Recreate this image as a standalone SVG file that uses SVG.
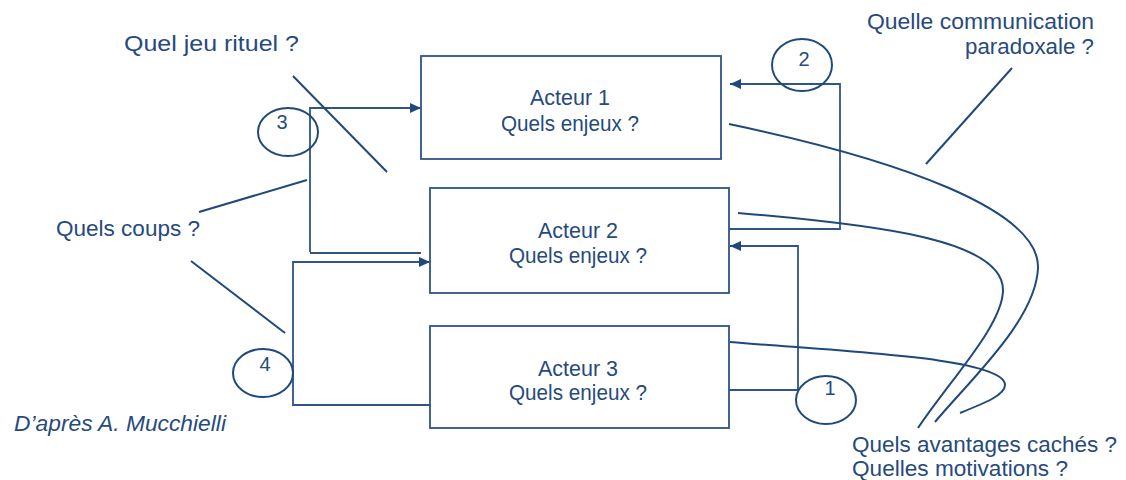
<svg xmlns="http://www.w3.org/2000/svg" width="1126" height="480" viewBox="0 0 1126 480">
<defs>
<marker id="ah" markerUnits="userSpaceOnUse" markerWidth="12" markerHeight="10" refX="11" refY="5" orient="auto">
<path d="M0,0 L11,5 L0,10 z" fill="#1f497d"/>
</marker>
<style>
.box{fill:#fff;stroke:#2f5488;stroke-width:1.8}
.ln{fill:none;stroke:#1f497d;stroke-width:2}
.cn{fill:none;stroke:#2f5488;stroke-width:1.8}
.el{fill:none;stroke:#1f497d;stroke-width:2}
.t{font-family:"Liberation Sans",Arial,sans-serif;font-size:22.5px;fill:#264a7e}
.b{font-family:"Liberation Sans",Arial,sans-serif;font-size:21.5px;fill:#264a7e;text-anchor:middle}
.d{font-family:"Liberation Sans",Arial,sans-serif;font-size:20px;fill:#264a7e;text-anchor:middle}
</style>
</defs>
<rect width="1126" height="480" fill="#fff"/>

<g id="connectors">
<path class="cn" d="M310,252 L310,108 L421,108" marker-end="url(#ah)"/>
<path class="cn" d="M421,253 L310,253"/>
<path class="cn" d="M430,405 L293,405 L293,262 L430,262" marker-end="url(#ah)"/>
<path class="cn" d="M729,229 L840,229 L840,84 L730,84" marker-end="url(#ah)"/>
<path class="cn" d="M729,390 L798,390 L798,246 L730,246" marker-end="url(#ah)"/>
<path class="ln" d="M729,124 C900,160 1040,210 1038,268 C1036,320 970,380 935,422"/>
<path class="ln" d="M738,213 C880,225 1003,240 1003,290 C1003,325 950,380 918,428"/>
<path class="ln" d="M730,342 C850,352 1005,358 1005,385 C1005,395 985,403 960,413"/>
<line class="ln" x1="293" y1="76" x2="387" y2="172"/>
<line class="ln" x1="199" y1="212" x2="307" y2="180"/>
<line class="ln" x1="191" y1="261" x2="285" y2="333"/>
<line class="ln" x1="1012" y1="68" x2="926" y2="164"/>
</g>

<g id="acteur1">
<rect class="box" x="421" y="56" width="300" height="103"/>
<text class="b" x="570" y="105" textLength="80" lengthAdjust="spacingAndGlyphs">Acteur 1</text>
<text class="b" x="570" y="131" textLength="138" lengthAdjust="spacingAndGlyphs">Quels enjeux ?</text>
</g>
<g id="acteur2">
<rect class="box" x="430" y="188" width="299" height="105"/>
<text class="b" x="578" y="238" textLength="80" lengthAdjust="spacingAndGlyphs">Acteur 2</text>
<text class="b" x="578" y="263" textLength="138" lengthAdjust="spacingAndGlyphs">Quels enjeux ?</text>
</g>
<g id="acteur3">
<rect class="box" x="430" y="326" width="299" height="102"/>
<text class="b" x="578" y="376" textLength="80" lengthAdjust="spacingAndGlyphs">Acteur 3</text>
<text class="b" x="578" y="400" textLength="138" lengthAdjust="spacingAndGlyphs">Quels enjeux ?</text>
</g>

<g id="circle1">
<ellipse class="el" cx="826" cy="400" rx="30" ry="24"/>
<text class="d" x="830" y="395">1</text>
</g>
<g id="circle2">
<ellipse class="el" cx="802" cy="65" rx="30" ry="26"/>
<text class="d" x="804" y="66">2</text>
</g>
<g id="circle3">
<ellipse class="el" cx="288" cy="132" rx="30" ry="24"/>
<text class="d" x="282" y="129">3</text>
</g>
<g id="circle4">
<ellipse class="el" cx="263" cy="373" rx="30" ry="24"/>
<text class="d" x="265" y="371">4</text>
</g>

<g id="labels">
<text class="t" x="124" y="51" textLength="175" lengthAdjust="spacingAndGlyphs">Quel jeu rituel ?</text>
<text class="t" x="56" y="236" textLength="144" lengthAdjust="spacingAndGlyphs">Quels coups ?</text>
<text class="t" x="867" y="29" textLength="227" lengthAdjust="spacingAndGlyphs">Quelle communication</text>
<text class="t" x="965" y="54" textLength="129" lengthAdjust="spacingAndGlyphs">paradoxale ?</text>
<text class="t" x="852" y="452" textLength="265" lengthAdjust="spacingAndGlyphs">Quels avantages cachés ?</text>
<text class="t" x="852" y="476" textLength="216" lengthAdjust="spacingAndGlyphs">Quelles motivations ?</text>
<text class="t" x="14" y="431" font-style="italic" textLength="212" lengthAdjust="spacingAndGlyphs">D’après A. Mucchielli</text>
</g>
</svg>
